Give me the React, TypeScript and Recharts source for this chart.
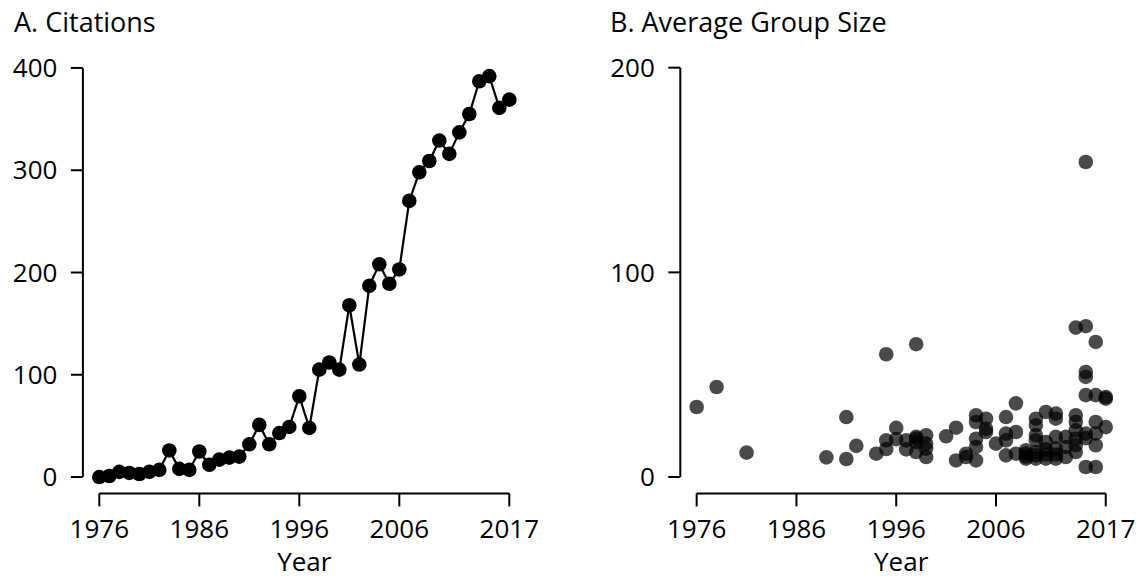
import React from "react";
import {
  ComposedChart,
  ScatterChart,
  Line,
  Scatter,
  XAxis,
  YAxis,
  ReferenceLine,
} from "recharts";

const FONT = "'Open Sans', sans-serif";

// panel A
const years = [
  1976, 1977, 1978, 1979, 1980, 1981, 1982, 1983, 1984, 1985, 1986, 1987, 1988, 1989,
  1990, 1991, 1992, 1993, 1994, 1995, 1996, 1997, 1998, 1999, 2000, 2001, 2002, 2003,
  2004, 2005, 2006, 2007, 2008, 2009, 2010, 2011, 2012, 2013, 2014, 2015, 2016, 2017,
];
const citations = [
  0, 1, 5, 4, 3, 5, 7, 26, 8, 7, 25, 12, 17, 19, 20, 32, 51, 32, 43, 49, 79, 48, 105,
  112, 105, 168, 110, 187, 208, 189, 203, 270, 298, 309, 329, 316, 337, 355, 387, 392,
  361, 369,
];
const citationTicks = [0, 100, 200, 300, 400];

// panel B
const groupYears = [
  1976, 1978, 1981, 1989, 1991, 1991, 1992, 1994,
  1995, 1995, 1995, 1996, 1996, 1997, 1997,
  1998, 1998, 1998, 1998, 1998, 1999, 1999, 1999, 1999,
  2001, 2002, 2002, 2003, 2003,
  2004, 2004, 2004, 2004, 2004, 2005, 2005, 2005, 2006,
  2007, 2007, 2007, 2007, 2008, 2008, 2008, 2009, 2009, 2009, 2009,
  2010, 2010, 2010, 2010, 2010, 2010, 2010, 2011, 2011, 2011, 2011, 2011,
  2012, 2012, 2012, 2012, 2012, 2012, 2013, 2013, 2013,
  2014, 2014, 2014, 2014, 2014, 2014, 2014,
  2015, 2015, 2015, 2015, 2015, 2015, 2015, 2015,
  2016, 2016, 2016, 2016, 2016, 2016, 2017, 2017, 2017,
];
const groupSizes = [
  34.2, 44, 11.9, 9.6, 29.3, 8.8, 15.2, 11.4,
  60, 17.9, 13.7, 24, 18.5, 17.9, 13.5,
  64.9, 19.6, 18.8, 17.1, 12.2, 20.4, 16.3, 13.9, 9.8,
  19.9, 24.1, 8.1, 11.4, 9.8,
  30.2, 26.9, 18.7, 14.7, 8.1, 28.5, 23.6, 22, 16.3,
  29.3, 21.2, 17.9, 10.6, 36, 22, 11.4, 13, 11.5, 10, 9,
  28.5, 25.3, 20.4, 17.9, 12.2, 10.6, 9, 31.8, 17.1, 13.5, 11, 9,
  31, 28.5, 19.6, 13.9, 11, 9, 19.6, 14.7, 9.8,
  73, 30.2, 26.9, 22.8, 18.7, 15.5, 12.2,
  153.9, 73.7, 51.3, 48.9, 40, 21.2, 19, 4.9,
  66, 40, 26.9, 21.2, 15.5, 4.9, 39.1, 38.3, 24.4,
];
const groupTicks = [0, 100, 200];

const yearTicks = [1976, 1986, 1996, 2006, 2017];
const X_DOMAIN: [number, number] = [1974.36, 2018.64];

const citationData = years.map((year, i) => ({ year, citations: citations[i] }));
const groupData = groupYears.map((year, i) => ({ year, size: groupSizes[i] }));

const tickStyle = { fill: "#000", fontSize: 26, fontFamily: FONT };
const tickLineStyle = { stroke: "#000", strokeWidth: 2 };
const yearLabel = {
  value: "Year",
  position: "insideBottom" as const,
  offset: 8,
  fill: "#000",
  fontSize: 26,
  fontFamily: FONT,
};

const titleStyle: React.CSSProperties = {
  position: "absolute",
  top: 8,
  fontFamily: FONT,
  fontSize: 27,
  lineHeight: "27px",
  color: "#000",
  whiteSpace: "nowrap",
};

const Dot = (props: any) => (
  <circle cx={props.cx} cy={props.cy} r={7.3} fill="#000" fillOpacity={0.71} />
);

export default function App() {
  return (
    <div style={{ position: "absolute", left: 0, top: 0, width: 1146, height: 579, background: "#fff" }}>
      <div style={{ ...titleStyle, left: 14 }}>A. Citations</div>
      <div style={{ ...titleStyle, left: 610 }}>B. Average Group Size</div>

      <div style={{ position: "absolute", left: 0, top: 0 }}>
        <ComposedChart
          width={560}
          height={579}
          data={citationData}
          margin={{ top: 51.6, right: 34.3, bottom: 0, left: 0 }}
        >
          <XAxis
            type="number"
            dataKey="year"
            domain={X_DOMAIN}
            ticks={yearTicks}
            axisLine={false}
            tickLine={tickLineStyle}
            tickSize={13}
            tickMargin={13}
            tick={tickStyle}
            height={85.6}
            label={yearLabel}
          />
          <YAxis
            type="number"
            domain={[-16, 416]}
            ticks={citationTicks}
            axisLine={false}
            tickLine={tickLineStyle}
            tickSize={12}
            tickMargin={13.5}
            tick={tickStyle}
            width={82.9}
          />
          <ReferenceLine
            segment={[{ x: 1976, y: -16 }, { x: 2017, y: -16 }]}
            stroke="#000"
            strokeWidth={2}
            ifOverflow="visible"
          />
          <ReferenceLine
            segment={[{ x: X_DOMAIN[0], y: 0 }, { x: X_DOMAIN[0], y: 400 }]}
            stroke="#000"
            strokeWidth={2}
            ifOverflow="visible"
          />
          <Line
            type="linear"
            dataKey="citations"
            stroke="#000"
            strokeWidth={2.2}
            dot={{ r: 7.3, fill: "#000", stroke: "none" }}
            activeDot={false}
            isAnimationActive={false}
          />
        </ComposedChart>
      </div>

      <div style={{ position: "absolute", left: 573, top: 0 }}>
        <ScatterChart
          width={573}
          height={579}
          margin={{ top: 51.3, right: 23.9, bottom: 0, left: 0 }}
        >
          <XAxis
            type="number"
            dataKey="year"
            domain={X_DOMAIN}
            ticks={yearTicks}
            axisLine={false}
            tickLine={tickLineStyle}
            tickSize={13}
            tickMargin={13}
            tick={tickStyle}
            height={85.6}
            label={yearLabel}
          />
          <YAxis
            type="number"
            dataKey="size"
            domain={[-8, 208]}
            ticks={groupTicks}
            axisLine={false}
            tickLine={tickLineStyle}
            tickSize={12}
            tickMargin={13.5}
            tick={tickStyle}
            width={107.3}
          />
          <ReferenceLine
            segment={[{ x: 1976, y: -8 }, { x: 2017, y: -8 }]}
            stroke="#000"
            strokeWidth={2}
            ifOverflow="visible"
          />
          <ReferenceLine
            segment={[{ x: X_DOMAIN[0], y: 0 }, { x: X_DOMAIN[0], y: 200 }]}
            stroke="#000"
            strokeWidth={2}
            ifOverflow="visible"
          />
          <Scatter data={groupData} shape={Dot} isAnimationActive={false} />
        </ScatterChart>
      </div>
    </div>
  );
}
